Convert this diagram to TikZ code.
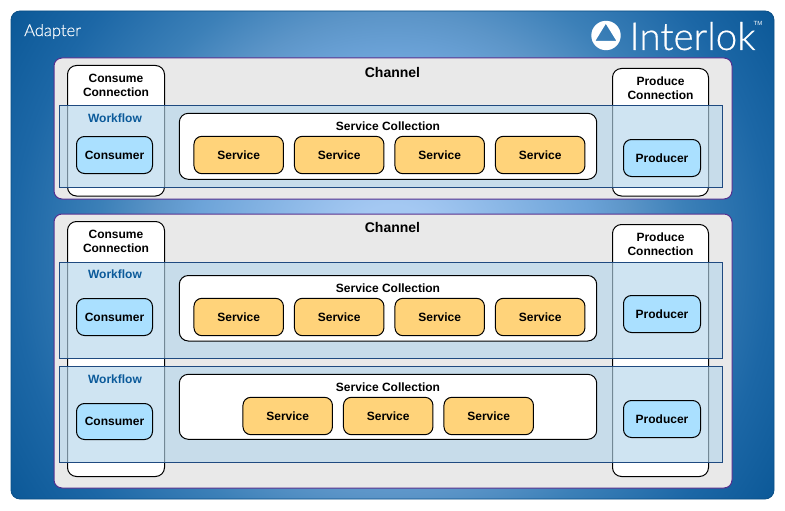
\documentclass[tikz,border=0pt]{standalone}
\usepackage{fontspec}
\setmainfont{Liberation Sans}
\newfontfamily\logofont[FakeBold=0.5]{Lato Light}
\newfontfamily\lightfont[FakeBold=0.3]{Lato Light}
\definecolor{stopA}{HTML}{A8CCF6}
\definecolor{stopB}{HTML}{A4C8F2}
\definecolor{stopC}{HTML}{6CA3D8}
\definecolor{stopD}{HTML}{5C95C8}
\definecolor{stopE}{HTML}{3C80B8}
\definecolor{stopF}{HTML}{1C67A6}
\definecolor{stopG}{HTML}{0A5796}
\definecolor{adapterline}{HTML}{0B4F86}
\definecolor{channelline}{HTML}{54308F}
\definecolor{channelfill}{HTML}{E9E9E9}
\definecolor{wffill}{RGB}{180,214,235}
\definecolor{wfline}{HTML}{1F4A80}
\definecolor{wftext}{HTML}{0B5A9A}
\definecolor{endfill}{HTML}{AAE0FF}
\definecolor{svcfill}{HTML}{FFD37A}
\pgfdeclareradialshading{adaptershade}{\pgfpoint{0bp}{0bp}}{
  color(0bp)=(stopA);
  color(5bp)=(stopB);
  color(20bp)=(stopC);
  color(24bp)=(stopD);
  color(29.5bp)=(stopE);
  color(38bp)=(stopF);
  color(46bp)=(stopG);
  color(50bp)=(stopG)}
\tikzset{
  boxbase/.style={draw=black,line width=1pt,inner sep=0pt,outer sep=0pt,align=center,font=\bfseries\fontsize{12}{14}\selectfont},
  connbox/.style={boxbase,fill=white,rounded corners=9pt},
  collbox/.style={boxbase,fill=white,rounded corners=9pt},
  endbox/.style={boxbase,fill=endfill,rounded corners=8pt},
  svcbox/.style={boxbase,fill=svcfill,rounded corners=8pt},
  channelbox/.style={draw=channelline,line width=1pt,fill=channelfill,rounded corners=8pt,inner sep=0pt,outer sep=0pt},
  wfbox/.style={draw=wfline,line width=1pt,fill=wffill,fill opacity=.64,inner sep=0pt,outer sep=0pt},
  boxtext/.style={inner sep=0pt,align=center,font=\bfseries\fontsize{12}{14}\selectfont},
  wftitle/.style={boxtext,text=wftext},
  chantitle/.style={inner sep=0pt,font=\bfseries\fontsize{14}{16}\selectfont},
}
\begin{document}
\begin{tikzpicture}[x=1pt,y=-1pt]
\useasboundingbox (0,0) rectangle (785,511);
% adapter
\begin{scope}
\clip[rounded corners=9pt] (11,11) rectangle (774,499);
\begin{scope}
\pgftransformshift{\pgfpoint{392.5pt}{-255pt}}
\pgftransformscale{9.96}
\pgflowlevelsynccm
\pgfuseshading{adaptershade}
\end{scope}
\end{scope}
\draw[adapterline,line width=.8pt,rounded corners=9pt] (11,11) rectangle (774,499);
\node[inner sep=0pt,anchor=west,text=white,font=\lightfont\fontsize{16.5}{18}\selectfont] (adapter) at (24,31.5) {Adapter};
% logo
\node[inner sep=0pt,anchor=base west,text=white,font=\logofont\fontsize{38.5}{44}\selectfont] (interlok) at (629.5,50) {Interlok};
\node[inner sep=0pt,text=white,font=\fontsize{6}{7}\selectfont] (tm) at (758,23) {TM};
\path[fill=white,even odd rule] (606,35.5) circle (14.7pt)
  (605.8,23.8) -- (616.5,41) -- (595.3,41) -- cycle;
% channels
\node[channelbox,minimum width=678pt,minimum height=141pt] (ch1) at (393,128.5) {};
\node[channelbox,minimum width=678pt,minimum height=274pt] (ch2) at (393,351) {};
\node[chantitle] (ch1t) at (392.5,72) {Channel};
\node[chantitle] (ch2t) at (392.5,227) {Channel};
% connections
\node[connbox,minimum width=97pt,minimum height=130.5pt] (cc1) at (116,130.75) {};
\node[connbox,minimum width=96pt,minimum height=127.5pt] (pc1) at (660.5,132.25) {};
\node[connbox,minimum width=97pt,minimum height=255pt] (cc2) at (116,349) {};
\node[connbox,minimum width=96pt,minimum height=252pt] (pc2) at (660.5,350.5) {};
\node[boxtext] (cc1t) at (116,85) {Consume\\Connection};
\node[boxtext] (pc1t) at (660.5,88) {Produce\\Connection};
\node[boxtext] (cc2t) at (116,241) {Consume\\Connection};
\node[boxtext] (pc2t) at (660.5,244) {Produce\\Connection};
% workflows
\node[wfbox,minimum width=663pt,minimum height=82pt] (wf1) at (391,146.5) {};
\node[wfbox,minimum width=663pt,minimum height=95.5pt] (wf2) at (391,310.25) {};
\node[wfbox,minimum width=663pt,minimum height=96pt] (wf3) at (391,414.5) {};
\node[wftitle] (wf1t) at (115,118) {Workflow};
\node[wftitle] (wf2t) at (115,274) {Workflow};
\node[wftitle] (wf3t) at (115,379) {Workflow};
% service collections
\node[collbox,minimum width=417.4pt,minimum height=66pt] (sc1) at (388,146.3) {};
\node[collbox,minimum width=417.4pt,minimum height=65.5pt] (sc2) at (388,308.25) {};
\node[collbox,minimum width=417.4pt,minimum height=65pt] (sc3) at (388,406.8) {};
\node[boxtext] (sc1t) at (388,126) {Service Collection};
\node[boxtext] (sc2t) at (388,288) {Service Collection};
\node[boxtext] (sc3t) at (388,387) {Service Collection};
% consumers / producers
\node[endbox,minimum width=76pt,minimum height=37pt] (con1) at (114.5,155) {Consumer};
\node[endbox,minimum width=76pt,minimum height=37pt] (con2) at (114.5,317) {Consumer};
\node[endbox,minimum width=76pt,minimum height=36pt] (con3) at (114.5,421.5) {Consumer};
\node[endbox,minimum width=77pt,minimum height=37pt] (pro1) at (662,158) {Producer};
\node[endbox,minimum width=77pt,minimum height=37pt] (pro2) at (662,314) {Producer};
\node[endbox,minimum width=77pt,minimum height=37pt] (pro3) at (662,419) {Producer};
% services
\foreach \nm/\cx in {a/238.7,b/339.2,c/439.7,d/540.2}{
  \node[svcbox,minimum width=89.5pt,minimum height=37.4pt] (s1\nm) at (\cx,155) {Service};
  \node[svcbox,minimum width=89.5pt,minimum height=37.4pt] (s2\nm) at (\cx,317) {Service};
}
\foreach \nm/\cx in {a/287.7,b/388.2,c/488.7}{
  \node[svcbox,minimum width=89.5pt,minimum height=37.4pt] (s3\nm) at (\cx,416) {Service};
}
\end{tikzpicture}
\end{document}
